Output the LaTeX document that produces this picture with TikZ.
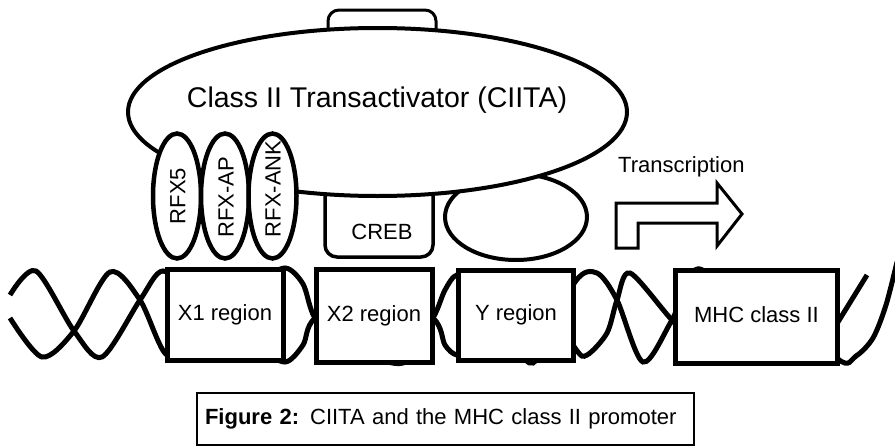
\documentclass[tikz,border=0pt]{standalone}
\usepackage{fontspec}
\setmainfont{Liberation Sans}
\usetikzlibrary{shapes.geometric}

\begin{document}
\begin{tikzpicture}[x=1pt, y=-1pt,
  strand/.style={line width=5pt},
  region/.style={draw, line width=5pt, fill=white, inner sep=0pt, text depth=0.45em, font=\fontsize{22}{26}\selectfont},
  rfx/.style={draw, ellipse, line width=4.5pt, fill=white, rotate=90, minimum width=125pt, minimum height=48pt, inner sep=0pt},
  lbl/.style={inner sep=0pt, font=\fontsize{22}{26}\selectfont}]
\useasboundingbox (0,0) rectangle (895,447);
\draw[strand] plot[smooth] coordinates {(10,295) (36,271) (74,331) (102,357) (140,300) (163,271) (195,300) (225,345) (260,285) (285,268) (303,284) (315,318) (345,345) (403,363) (433,318) (445,290) (457,275) (475,285) (505,318) (533,363) (575,282) (597,273) (617,300) (643,362) (672,320) (700,269) (770,340) (838,322)} -- (867,275);
\draw[strand] plot[smooth] coordinates {(10,318) (42,357) (74,331) (110,272) (140,300) (167,355) (195,330) (225,285) (260,345) (285,362) (303,345) (315,318) (374,280) (433,318) (445,345) (457,355) (475,350) (505,318) (533,280) (575,348) (587,355) (607,333) (617,300) (630,273) (672,320) (705,350) (770,285) (838,359) (856,356) (873,338) (886,305) (897,262)};
\draw[line width=3pt, rounded corners=11pt, fill=white] (328,45) -- (328,10) -- (436,10) -- (436,45);
\node[draw, line width=3.5pt, rounded corners=12pt, fill=white, minimum width=108pt, minimum height=80pt] (creb) at (379,217) {};
\node[draw, ellipse, line width=4pt, fill=white, minimum width=142pt, minimum height=86pt] (nfy) at (516,217) {};
\node[draw, ellipse, line width=4pt, fill=white, minimum width=499pt, minimum height=168pt] (ciita) at (377.5,112) {};
\node[font=\fontsize{28.5}{32}\selectfont, inner sep=0pt] (ciitalabel) at (377,100) {Class II Transactivator (CIITA)};
\node[rfx] (rfx5) at (177,196) {};
\node[rfx] (rfxap) at (225,196) {};
\node[rfx] (rfxank) at (272.5,196) {};
\node[lbl, rotate=90] (rfx5label) at (178,196) {RFX5};
\node[lbl, rotate=90] (rfxaplabel) at (226,197) {RFX-AP};
\node[lbl, rotate=90] (rfxanklabel) at (273,189) {RFX-ANK};
\node[lbl] (creblabel) at (382,232) {CREB};
\node[region, minimum width=116pt, minimum height=91pt] (xone) at (225,315) {X1 region};
\node[region, minimum width=116pt, minimum height=93pt] (xtwo) at (374,316) {X2 region};
\node[region, minimum width=115pt, minimum height=90pt] (yreg) at (516,315) {Y region};
\node[region, minimum width=162pt, minimum height=93pt] (mhc) at (756.5,317) {MHC class II};
\draw[line width=3pt, fill=white] (616,248) -- (616,203) -- (717,203) -- (717,183) -- (742,214) -- (717,246) -- (717,223) -- (638,223) -- (638,248) -- cycle;
\node[lbl, anchor=base west] (transcription) at (618,172) {Transcription};
\node[draw, line width=2.5pt, minimum width=497pt, minimum height=52pt, text width=481pt, inner xsep=8pt, align=left, font=\fontsize{22}{26}\selectfont] (caption) at (445.5,419) {\textbf{Figure 2:} CIITA and the MHC class II promoter};
\end{tikzpicture}
\end{document}
